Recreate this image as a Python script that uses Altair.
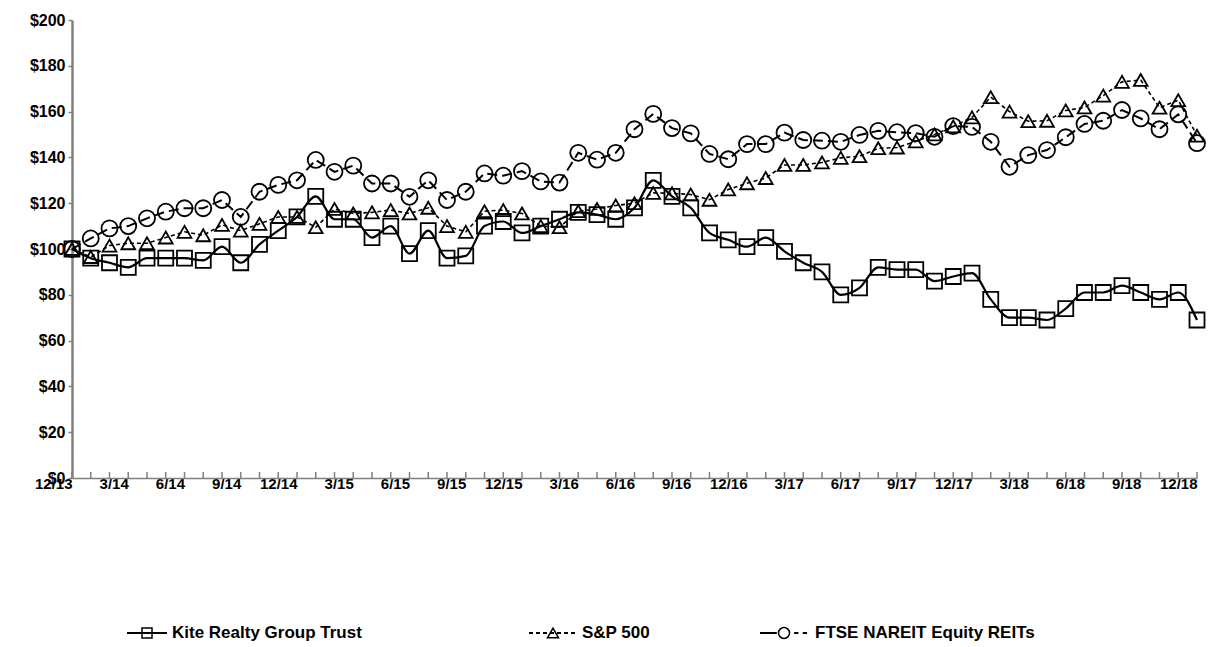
import altair as alt
import pandas as pd

# ---------------- data ----------------
month_labels = ["12/13"] + [f"{m}/{y}" for y in range(14, 19) for m in range(1, 13)]

kite = [100, 96, 94, 92, 96, 96, 96, 95, 101, 94, 102, 108, 114,
        123, 113, 113, 105, 110, 98, 108, 96, 97, 110, 112, 107,
        110, 113, 116, 115, 113, 118, 130, 123, 118, 107, 104, 101,
        105, 99, 94, 90, 80, 83, 92, 91, 91, 86, 88, 89.5,
        78, 70, 70, 69, 74, 81, 81, 84, 81, 78, 81, 69]

sp500 = [100, 96.5, 101.5, 102.5, 102.5, 105, 107.5, 106, 110.5, 108, 111, 114, 114,
         109.5, 117.5, 115.5, 116, 117, 115.5, 118, 110, 107.5, 116.5, 117, 115.5,
         110, 109.5, 116.5, 117.5, 119, 120, 124.5, 124.3, 123.8, 121.5, 126, 128.7,
         131, 136.7, 136.7, 137.8, 139.8, 140.5, 144, 144.3, 147, 150, 153.5, 157.5,
         166.3, 160, 155.8, 156, 160.5, 161.8, 167, 173, 173.8, 161.7, 165, 149.5]

nareit = [100, 104.6, 109, 110, 113.4, 116.3, 117.8, 117.8, 121.4, 114, 125, 128, 130,
          138.9, 133.7, 136.4, 128.6, 128.6, 122.8, 130, 121.4, 125, 133, 132, 134,
          129.5, 129, 142, 139, 142, 152.3, 159, 152.8, 150.5, 141.5, 139.2, 145.8,
          145.8, 150.8, 147.6, 147.3, 146.8, 149.8, 151.6, 151, 150.6, 149, 153.7, 153.3,
          146.8, 135.9, 141, 143.2, 148.8, 154.6, 156, 160.7, 157, 152.3, 158.8, 146.2]

series_names = ["Kite Realty Group Trust", "S&P 500", "FTSE NAREIT Equity REITs"]
y_ticks = list(range(0, 201, 20))

rows = []
for name, vals in zip(series_names, [kite, sp500, nareit]):
    for m, v in zip(month_labels, vals):
        rows.append({"month": m, "series": name, "value": v})
df = pd.DataFrame(rows)
ticks_df = pd.DataFrame({"month": month_labels})

FONT = "Liberation Sans"
GRAY = "#808080"

x_enc = alt.X("month:N", sort=month_labels,
              scale=alt.Scale(type="point", padding=0, domain=month_labels),
              axis=alt.Axis(title=None, labelAngle=0, labelOverlap=False, ticks=False,
                            labelExpr="indexof(['12','3','6','9'], split(datum.value,'/')[0]) >= 0 ? datum.value : ''",
                            domainColor=GRAY, domainWidth=1.5, labelFont=FONT,
                            labelFontSize=15, labelFontWeight="bold", labelColor="black",
                            labelPadding=5, labelFlush=False))
y_enc = alt.Y("value:Q", scale=alt.Scale(domain=[0, 200], nice=False, zero=True),
              axis=alt.Axis(title=None, values=y_ticks, format="$.0f", grid=False,
                            domainColor=GRAY, domainWidth=2.5, tickColor=GRAY,
                            tickSize=4, tickWidth=1.5, labelFont=FONT, labelFontSize=16,
                            labelFontWeight="bold", labelColor="black", labelPadding=3))

base = alt.Chart(df).encode(x=x_enc, y=y_enc)

def sel(name):
    return alt.datum.series == name

kite_line = base.transform_filter(sel(series_names[0])).mark_line(
    color="black", strokeWidth=2.2, interpolate="monotone")
kite_pts = base.transform_filter(sel(series_names[0])).mark_point(
    shape="square", size=225, filled=False, color="black", strokeWidth=1.8, opacity=1)

sp_line = base.transform_filter(sel(series_names[1])).mark_line(
    color="black", strokeWidth=1.6, strokeDash=[4, 3])
sp_pts = base.transform_filter(sel(series_names[1])).mark_point(
    shape="triangle-up", size=190, filled=False, color="black", strokeWidth=1.8, opacity=1)

na_line = base.transform_filter(sel(series_names[2])).mark_line(
    color="black", strokeWidth=2, strokeDash=[10, 5])
na_pts = base.transform_filter(sel(series_names[2])).mark_point(
    shape="circle", size=256, filled=False, color="black", strokeWidth=1.8, opacity=1)

tick_marks = alt.Chart(ticks_df).mark_point(
    shape="M0,0L0,-1", size=144, filled=False, color=GRAY, strokeWidth=1.5, opacity=1
).encode(x=alt.X("month:N", sort=month_labels), y=alt.datum(0))

main = alt.layer(tick_marks, na_line, sp_line, kite_line, na_pts, sp_pts, kite_pts).properties(
    width=1125, height=458)

# ---------------- legend ----------------
leg_df = pd.DataFrame({"series": series_names})
leg_base = alt.Chart(leg_df).encode(
    x=alt.X("series:N", sort=series_names,
            scale=alt.Scale(type="point", domain=series_names, range=[176, 858], padding=0),
            axis=None))

leg_layers = []
sym_paths = ["M-1,0L1,0", "M-1,0L1,0", "M-1,0L-0.3,0M0.42,0L0.6,0M0.78,0L0.96,0"]
sym_sizes = [1600, 2304, 2304]
sym_dash = [None, [4, 3], None]
sym_off = [-101, -36, -146]
txt_off = [-76, -7, -115]
marker_shapes = ["square", "triangle-up", "circle"]
marker_sizes = [100, 121, 121]
for i, name in enumerate(series_names):
    b = leg_base.transform_filter(alt.datum.series == name)
    kw = dict(shape=sym_paths[i], size=sym_sizes[i], filled=False, color="black",
              strokeWidth=2, opacity=1, xOffset=sym_off[i])
    if sym_dash[i]:
        kw["strokeDash"] = sym_dash[i]
    leg_layers.append(b.mark_point(**kw))
    leg_layers.append(b.mark_point(shape=marker_shapes[i], size=marker_sizes[i], filled=False,
                                   color="black", strokeWidth=1.5, opacity=1,
                                   xOffset=sym_off[i]))
    leg_layers.append(b.mark_text(align="left", baseline="middle", dx=txt_off[i],
                                  font=FONT, fontSize=17, fontWeight="bold",
                                  color="black").encode(text="series:N"))

legend = alt.layer(*leg_layers).properties(width=1125, height=12)

chart = alt.vconcat(main, legend, spacing=133).properties(
    padding={"left": 21, "top": 4, "right": 5, "bottom": 0},
    background="white"
).configure_view(strokeWidth=0)

chart.save("out.html", embed_options={"renderer": "svg", "actions": False})
